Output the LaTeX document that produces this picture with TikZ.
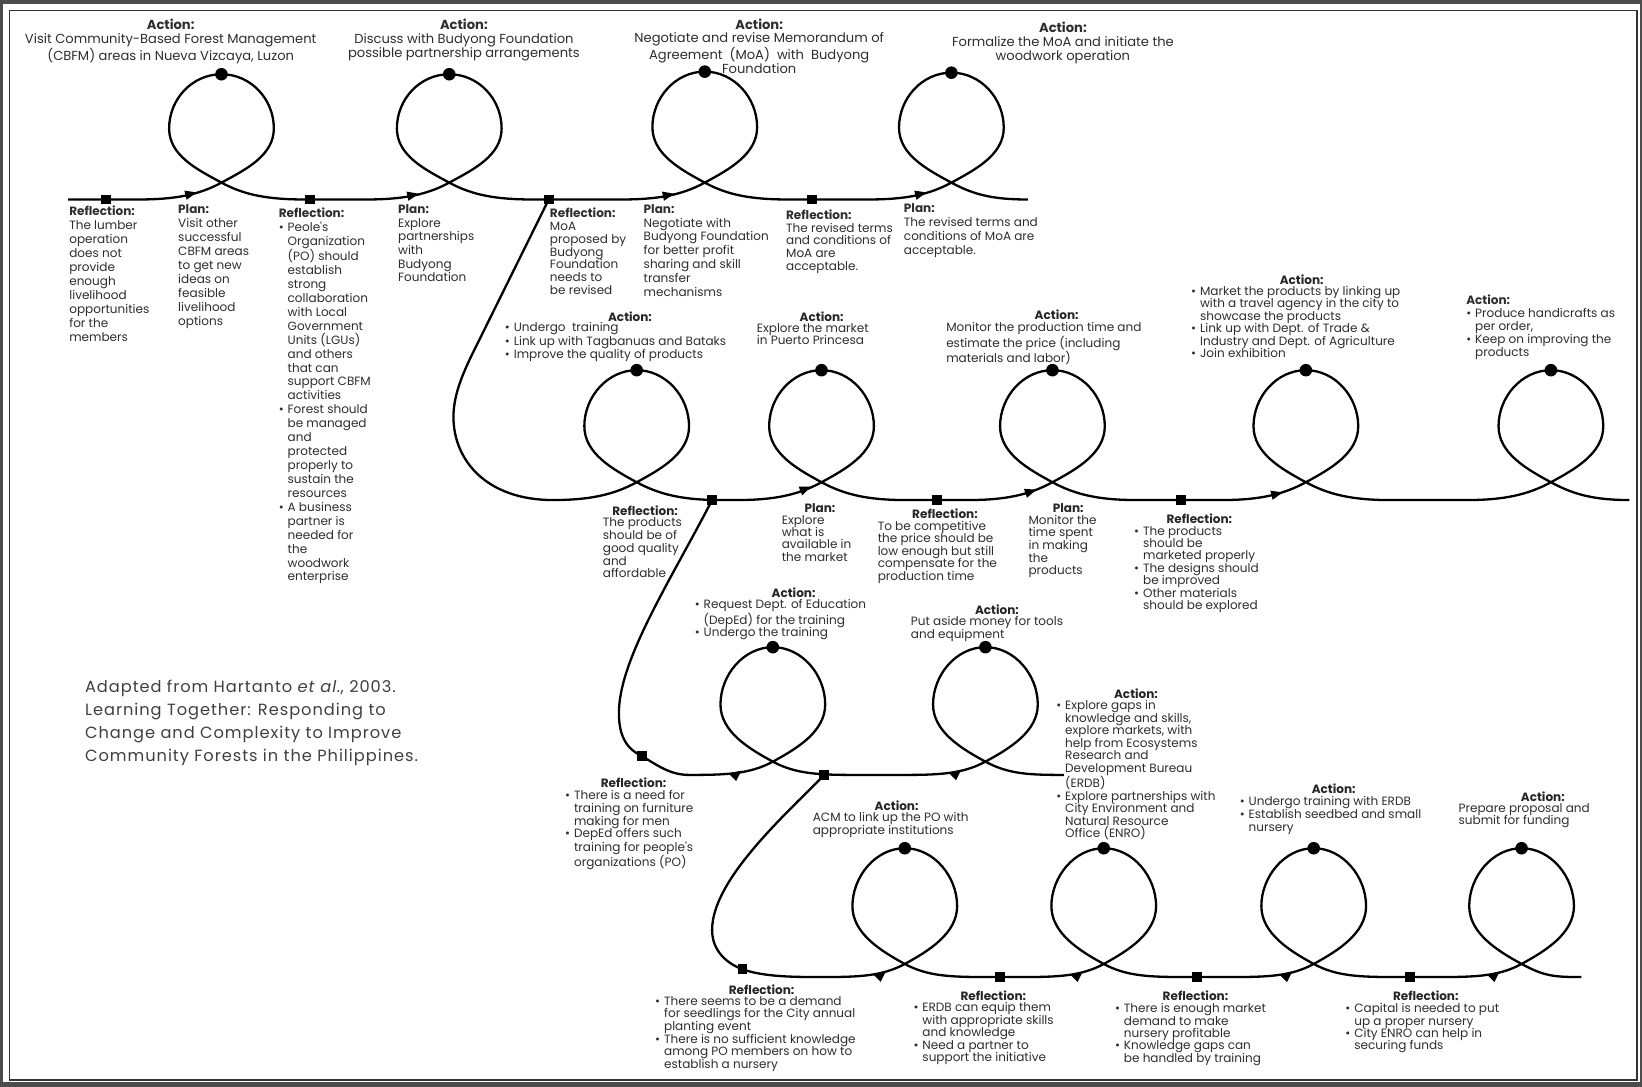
\documentclass[tikz,border=0pt]{standalone}
\usepackage{fontspec}
\newfontfamily\pf{Poppins}
\newfontfamily\pfw[LetterSpace=6]{Poppins}
\newcommand\st{\rule{0pt}{10pt}}
\newcommand\bul{\makebox[8.5pt][l]{\textbullet}}
\newcommand\hind{\hspace*{8.5pt}}
\newcommand\arR[3]{\fill[shift={(#1,#2)}, rotate=#3] (6,0) -- (-5,-4.5) -- (-5,4.5) -- cycle;}
\newcommand\arD[2]{\fill[shift={(#1,#2)}] (-6,1) -- (6,-2) -- (1,8) -- cycle;}
\tikzset{
 ln/.style={line width=2.2pt, black},
 sqr/.style={fill=black, rectangle, minimum size=9pt, inner sep=0pt},
 dot/.style={fill=black, circle, minimum size=12pt, inner sep=0pt},
 body/.style={anchor=north west, inner sep=0pt, align=left, text=black!82, yshift=6.5pt, font={\pf\fontsize{11.5}{#1}\selectfont}, execute at begin node=\st},
 body/.default=12,
 hd/.style={anchor=north, inner sep=0pt, align=center, text=black!85, yshift=6.5pt, font={\pf\bfseries\fontsize{11.5}{12}\selectfont}, execute at begin node=\st},
 hdr/.style={anchor=north, inner sep=0pt, align=center, text=black!82, yshift=6.5pt, font={\pf\fontsize{12.5}{#1}\selectfont}, execute at begin node=\st},
 hdr/.default=13.4,
 lp/.style n args={5}{insert path={
  -- ({#1-80},#3) .. controls ({#1-45},#3) and ({#1-22},{#2+12}) .. (#1,#2)
  .. controls ({#1+23},{#2-12.5}) and ({#1+50},{#2-#4/2+26}) .. ({#1+50},{#2-#4/2})
  .. controls ({#1+50},{#2-#4/2-28}) and ({#1+28},{#2-#4}) .. ({#1},{#2-#4})
  .. controls ({#1-28},{#2-#4}) and ({#1-50},{#2-#4/2-28}) .. ({#1-50},{#2-#4/2})
  .. controls ({#1-50},{#2-#4/2+26}) and ({#1-23},{#2-12.5}) .. (#1,#2)
  .. controls ({#1+22},{#2+12}) and ({#1+0.56*#5},#3) .. ({#1+#5},#3)
 }},
}
\begin{document}
\begin{tikzpicture}[x=1pt,y=-1pt]
\useasboundingbox (0,0) rectangle (1568,1038);
\fill[black!70] (0,0) rectangle (1568,1038);
\fill[white] (3,4) rectangle (1566,1033);
\draw[black!80, line width=1.6pt] (9,10) rectangle (1563,1031);

% markers (nodes) first so connectors can use names
\node[sqr] (s11) at (101.6,190.5) {};
\node[sqr] (s12) at (296,190.5) {};
\node[sqr] (s13) at (524,190.5) {};
\node[sqr] (s14) at (775.6,190.5) {};
\node[sqr] (s21) at (680,477.5) {};
\node[sqr] (s22) at (894.5,477.5) {};
\node[sqr] (s23) at (1127.4,477.5) {};
\node[sqr] (s30) at (613,722) {};
\node[sqr] (s31) at (787,740) {};
\node[sqr] (s40) at (709,925.6) {};
\node[sqr] (s41) at (955,933) {};
\node[sqr] (s42) at (1143.4,933) {};
\node[sqr] (s43) at (1346.8,933) {};
\coordinate (start) at (65,190.5);

% row 1
\draw[ln] (start) [lp={211.5}{174.4}{190.5}{103.5}{80}] [lp={429}{174.4}{190.5}{103.5}{80}]
  [lp={673}{174.4}{190.5}{106}{80}] [lp={908.5}{174.4}{190.5}{105}{73}];
% row 2
\draw[ln] (s13.center) -- (455,330) .. controls (444,352) and (433,375) .. (433,398)
  .. controls (433,440) and (465,477.5) .. (528,477.5)
  [lp={608}{460.5}{477.5}{107}{80}] [lp={784.5}{460.5}{477.5}{107}{80}]
  [lp={1005}{460.5}{477.5}{107}{80}] [lp={1247}{460.5}{477.5}{107}{80}]
  [lp={1481}{460.5}{477.5}{107}{75}];
% row 3
\draw[ln] (s21.center) .. controls (640,555) and (591,630) .. (591,681)
  .. controls (591,705) and (600,716) .. (s30.center)
  .. controls (628,731) and (640,740) .. (658,740)
  [lp={738}{727.3}{740}{109.3}{80}] [lp={941}{727.3}{740}{109.3}{75}];
% row 4
\draw[ln] (s31.center) .. controls (750,778) and (680,840) .. (680,888)
  .. controls (680,908) and (694,920) .. (s40.center)
  .. controls (730,933) and (760,933) .. (784,933)
  [lp={864}{920.5}{933}{110.5}{80}] [lp={1054}{920.5}{933}{110.5}{80}]
  [lp={1254.5}{920.5}{933}{110.5}{80}] [lp={1453}{920.5}{933}{110.5}{57}];

% redraw markers on top
\foreach \n in {s11,s12,s13,s14,s21,s22,s23,s30,s31,s40,s41,s42,s43}
  \fill (\n.south west) rectangle (\n.north east);

% dots
\node[dot] (d11) at (211.5,70.9) {};
\node[dot] (d12) at (429,70.9) {};
\node[dot] (d13) at (673,68.4) {};
\node[dot] (d14) at (908.5,69.4) {};
\node[dot] (d21) at (608,353.5) {};
\node[dot] (d22) at (784.5,353.5) {};
\node[dot] (d23) at (1005,353.5) {};
\node[dot] (d24) at (1247,353.5) {};
\node[dot] (d25) at (1481,353.5) {};
\node[dot] (d31) at (738,618) {};
\node[dot] (d32) at (941,618) {};
\node[dot] (d41) at (864,810) {};
\node[dot] (d42) at (1054,810) {};
\node[dot] (d43) at (1254.5,810) {};
\node[dot] (d44) at (1453,810) {};

% arrowheads
\arR{182}{185.2}{14}
\arR{394}{186.3}{12}
\arR{638}{186.3}{12}
\arR{879}{185.2}{14}
\arR{769}{467}{22}
\arR{984}{469.5}{18}
\arR{1219}{471.7}{14}
\arD{702}{737.8}
\arD{912}{737}
\arD{840}{929.5}
\arD{1028}{929.8}
\arD{1228}{929.8}
\arD{1426}{929.8}

% row 1 headers
\node[hdr=13.4] (a1) at (163,24.8) {\textbf{Action:}\\Visit Community-Based Forest Management\\(CBFM) areas in Nueva Vizcaya, Luzon};
\node[hdr=13.4] (a2) at (443,24.8) {\textbf{Action:}\\Discuss with Budyong Foundation\\possible partnership arrangements};
\node[hdr=13.1] (a3) at (725,24) {\textbf{Action:}\\Negotiate and revise Memorandum of\\Agreement~ (MoA)~ with~ Budyong\\Foundation};
\node[hdr=13.5] (a4) at (1015,27) {\textbf{Action:}\\Formalize the MoA and initiate the\\woodwork operation};

% row 1 lower
\node[body=13.35] (r1) at (66,202.8) {\textbf{Reflection:}\\The lumber\\operation\\does not\\provide\\enough\\livelihood\\opportunities\\for the\\members};
\node[body=13.35] (p1) at (170,201.5) {\textbf{Plan:}\\Visit other\\successful\\CBFM areas\\to get new\\ideas on\\feasible\\livelihood\\options};
\node[body=13.3] (r2) at (266,204.5) {\textbf{Reflection:}\\\bul Peole's\\\hind Organization\\\hind (PO) should\\\hind establish\\\hind strong\\\hind collaboration\\\hind with Local\\\hind Government\\\hind Units (LGUs)\\\hind and others\\\hind that can\\\hind support CBFM\\\hind activities\\\bul Forest should\\\hind be managed\\\hind and\\\hind protected\\\hind properly to\\\hind sustain the\\\hind resources\\\bul A business\\\hind partner is\\\hind needed for\\\hind the\\\hind woodwork\\\hind enterprise};
\node[body=13.1] (p2) at (380,201.5) {\textbf{Plan:}\\Explore\\partnerships\\with\\Budyong\\Foundation};
\node[body=12.2] (r3) at (525,205) {\textbf{Reflection:}\\MoA\\proposed by\\Budyong\\Foundation\\needs to\\be revised};
\node[body=13.2] (p3) at (614.5,201.5) {\textbf{Plan:}\\Negotiate with\\Budyong Foundation\\for better profit\\sharing and skill\\transfer\\mechanisms};
\node[body=12] (r4) at (750.5,207) {\textbf{Reflection:}\\The revised terms\\and conditions of\\MoA are\\acceptable.};
\node[body=13.4] (p4) at (863,201) {\textbf{Plan:}\\The revised terms and\\conditions of MoA are\\acceptable.};

% row 2 upper
\node[hd] (a5h) at (601.6,303) {Action:};
\node[body=11.8] (a5) at (482,314.5) {\bul Undergo\ \ training\\\bul Link up with Tagbanuas and Bataks\\\bul Improve the quality of products};
\node[hd] (a6h) at (784.6,303) {Action:};
\node[body=12.2] (a6) at (722.6,315) {Explore the market\\in Puerto Princesa};
\node[hd] (a7h) at (1009,301.8) {Action:};
\node[body=11.9] (a7) at (903.4,314.2) {Monitor the production time and\\estimate the price (including\\materials and labor)};
\node[hd] (a8h) at (1243,268) {Action:};
\node[body=11.9] (a8) at (1137.3,279.5) {\bul Market the products by linking up\\\hind with a travel agency in the city to\\\hind showcase the products\\\bul Link up with Dept. of Trade \&\\\hind Industry and Dept. of Agriculture\\\bul Join exhibition};
\node[body=12.3] (a9) at (1400,288) {\textbf{Action:}\\\bul Produce handicrafts as\\\hind per order,\\\bul Keep on improving the\\\hind products};

% row 2 lower
\node[hd] (r5h) at (616,488.5) {Reflection:};
\node[body=12.3] (r5) at (575.5,500.5) {The products\\should be of\\good quality\\and\\affordable};
\node[hd] (p5h) at (783,485.4) {Plan:};
\node[body=11.9] (p5) at (746.4,498.2) {Explore\\what is\\available in\\the market};
\node[hd] (r6h) at (902.4,491.8) {Reflection:};
\node[body=11.9] (r6) at (838,503.9) {To be competitive\\the price should be\\low enough but still\\compensate for the\\production time};
\node[hd] (p6h) at (1020,485.4) {Plan:};
\node[body=12.1] (p6) at (982,498.2) {Monitor the\\time spent\\in making\\the\\products};
\node[hd] (r7h) at (1145.3,495.9) {Reflection:};
\node[body=11.9] (r7) at (1082.9,508.7) {\bul The products\\\hind should be\\\hind marketed properly\\\bul The designs should\\\hind be improved\\\bul Other materials\\\hind should be explored};

% row 3
\node[hd] (a10h) at (757.8,567.2) {Action:};
\node[body=12.2] (a10) at (663.3,578.7) {\bul Request Dept. of Education\\\hind (DepEd) for the training\\\bul Undergo the training};
\node[hd] (a11h) at (952,583.2) {Action:};
\node[body=11.1] (a11) at (869.7,594.6) {Put aside money for tools\\and equipment};
\node[hd] (a12h) at (1084.8,663.7) {Action:};
\node[body=11.95] (a12) at (1008.5,675.4) {\bul Explore gaps in\\\hind knowledge and skills,\\\hind explore markets, with\\\hind help from Ecosystems\\\hind Research and\\\hind Development Bureau\\\hind (ERDB)\\\bul Explore partnerships with\\\hind City Environment and\\\hind Natural Resource\\\hind Office (ENRO)};
\node[hd] (r8h) at (605,748) {Reflection:};
\node[body=12] (r8) at (539.5,761.4) {\bul There is a need for\\\hind training on furniture\\\hind making for men\\\bul DepEd offers such\\\hind training for people's\\\hind organizations (PO)};
\node[hd] (a13h) at (856.2,770.3) {Action:};
\node[body=11.8] (a13) at (776,782.4) {ACM to link up the PO with\\appropriate institutions};
\node[hd] (a14h) at (1273.6,754.4) {Action:};
\node[body=12] (a14) at (1183.7,767.1) {\bul Undergo training with ERDB\\\bul Establish seedbed and small\\\hind nursery};
\node[hd] (a15h) at (1473.3,761.4) {Action:};
\node[body=12.1] (a15) at (1392.7,773.5) {Prepare proposal and\\submit for funding};

% row 4
\node[hd] (r9h) at (727.3,946.3) {Reflection:};
\node[body=12.1] (r9) at (625.5,957.5) {\bul There seems to be a demand\\\hind for seedlings for the City annual\\\hind planting event\\\bul There is no sufficient knowledge\\\hind among PO members on how to\\\hind establish a nursery};
\node[hd] (r10h) at (948.6,951.7) {Reflection:};
\node[body=11.95] (r10) at (872.2,963.8) {\bul ERDB can equip them\\\hind with appropriate skills\\\hind and knowledge\\\bul Need a partner to\\\hind support the initiative};
\node[hd] (r11h) at (1141.6,951.7) {Reflection:};
\node[body=11.9] (r11) at (1064.6,964.5) {\bul There is enough market\\\hind demand to make\\\hind nursery profitable\\\bul Knowledge gaps can\\\hind be handled by training};
\node[hd] (r12h) at (1361.5,951.7) {Reflection:};
\node[body=11.9] (r12) at (1284.6,964.5) {\bul Capital is needed to put\\\hind up a proper nursery\\\bul City ENRO can help in\\\hind securing funds};

% footnote
\node[anchor=north west, inner sep=0pt, align=left, text=black!75, font={\pfw\fontsize{15.5}{22}\selectfont}] (fn) at (81,647.7) {\rule{0pt}{13pt}Adapted from Hartanto \textit{et al.}, 2003.\\Learning Together: Responding to\\Change and Complexity to Improve\\Community Forests in the Philippines.};
\end{tikzpicture}
\end{document}
